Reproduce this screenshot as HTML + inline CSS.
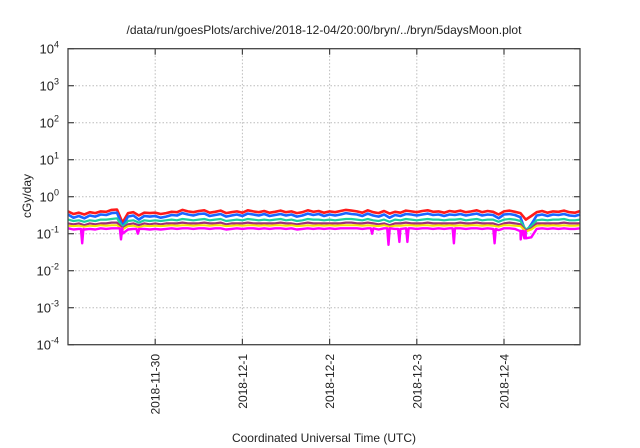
<!DOCTYPE html>
<html><head><meta charset="utf-8"><style>
body{margin:0;background:#fff}
svg{display:block;font-family:"Liberation Sans",sans-serif}
</style></head><body>
<svg id="c" width="640" height="448" viewBox="0 0 640 448">
<text x="324" y="34" text-anchor="middle" font-size="12" fill="#222">/data/run/goesPlots/archive/2018-12-04/20:00/bryn/../bryn/5daysMoon.plot</text>
<text transform="translate(31,196) rotate(-90)" text-anchor="middle" font-size="12" fill="#222">cGy/day</text>
<text x="324" y="442" text-anchor="middle" font-size="12" fill="#222">Coordinated Universal Time (UTC)</text>
<g id="grid"></g><g id="series"></g><g id="axes"></g>
</svg>
<script>
const yDecades=[-4,-3,-2,-1,0,1,2,3,4];
const xTickLabels=["2018-11-30","2018-12-1","2018-12-2","2018-12-3","2018-12-4"];
const xTickHours=[24,48,72,96,120];
const times=[0,1.5,3,4.5,6,7.5,9,10.5,12,13.5,15,16.5,18,19.5,21,22.5,24,25.5,27,28.5,30,31.5,33,34.5,36,37.5,39,40.5,42,43.5,45,46.5,48,49.5,51,52.5,54,55.5,57,58.5,60,61.5,63,64.5,66,67.5,69,70.5,72,73.5,75,76.5,78,79.5,81,82.5,84,85.5,87,88.5,90,91.5,93,94.5,96,97.5,99,100.5,102,103.5,105,106.5,108,109.5,111,112.5,114,115.5,117,118.5,120,121.5,123,124.5,126,127.5,129,130.5,132,133.5,135,136.5,138,139.5,141];
const red=[0.40,0.34,0.37,0.33,0.38,0.36,0.40,0.39,0.44,0.45,0.20,0.36,0.38,0.31,0.37,0.36,0.37,0.34,0.36,0.39,0.38,0.44,0.40,0.38,0.41,0.43,0.37,0.39,0.42,0.36,0.38,0.40,0.37,0.43,0.40,0.38,0.41,0.37,0.39,0.42,0.38,0.40,0.36,0.38,0.43,0.39,0.41,0.37,0.40,0.38,0.41,0.44,0.42,0.40,0.37,0.43,0.38,0.36,0.41,0.35,0.39,0.37,0.42,0.40,0.38,0.41,0.43,0.39,0.40,0.37,0.41,0.39,0.42,0.38,0.40,0.43,0.38,0.41,0.39,0.33,0.40,0.42,0.39,0.36,0.24,0.30,0.38,0.41,0.37,0.40,0.39,0.42,0.38,0.37,0.41,0.39];
const blue=[0.33,0.27,0.30,0.26,0.31,0.29,0.33,0.32,0.36,0.37,0.16,0.29,0.31,0.24,0.30,0.29,0.30,0.27,0.29,0.32,0.31,0.36,0.33,0.31,0.34,0.35,0.30,0.32,0.34,0.29,0.31,0.33,0.30,0.35,0.33,0.31,0.34,0.30,0.32,0.34,0.31,0.33,0.29,0.31,0.35,0.32,0.34,0.30,0.33,0.31,0.33,0.36,0.34,0.33,0.30,0.35,0.31,0.29,0.33,0.27,0.32,0.30,0.34,0.33,0.31,0.33,0.35,0.32,0.33,0.30,0.33,0.32,0.34,0.31,0.33,0.35,0.31,0.33,0.32,0.26,0.33,0.34,0.32,0.28,0.11,0.18,0.31,0.33,0.30,0.33,0.32,0.34,0.31,0.30,0.33,0.32];
const teal=[0.24,0.22,0.23,0.21,0.23,0.22,0.24,0.24,0.25,0.26,0.15,0.22,0.23,0.20,0.23,0.22,0.23,0.22,0.23,0.24,0.23,0.25,0.24,0.23,0.24,0.25,0.23,0.24,0.25,0.22,0.23,0.24,0.23,0.25,0.24,0.23,0.24,0.23,0.24,0.25,0.23,0.24,0.22,0.23,0.25,0.24,0.24,0.23,0.24,0.23,0.24,0.25,0.25,0.24,0.23,0.25,0.23,0.22,0.24,0.21,0.24,0.23,0.25,0.24,0.23,0.24,0.25,0.24,0.24,0.23,0.24,0.24,0.25,0.23,0.24,0.25,0.23,0.24,0.24,0.21,0.24,0.25,0.24,0.22,0.13,0.16,0.23,0.24,0.23,0.24,0.24,0.25,0.23,0.23,0.24,0.24];
const purple=[0.19,0.18,0.19,0.17,0.19,0.18,0.19,0.19,0.20,0.20,0.14,0.18,0.19,0.17,0.19,0.18,0.19,0.18,0.19,0.19,0.19,0.20,0.19,0.19,0.19,0.20,0.19,0.19,0.20,0.18,0.19,0.19,0.19,0.20,0.19,0.19,0.19,0.19,0.19,0.20,0.19,0.19,0.18,0.19,0.20,0.19,0.19,0.19,0.19,0.19,0.19,0.20,0.20,0.19,0.19,0.20,0.19,0.18,0.19,0.17,0.19,0.19,0.20,0.19,0.19,0.19,0.20,0.19,0.19,0.19,0.19,0.19,0.20,0.19,0.19,0.20,0.19,0.19,0.19,0.17,0.19,0.20,0.19,0.18,0.12,0.14,0.19,0.19,0.19,0.19,0.19,0.20,0.19,0.19,0.19,0.19];
const yellow=[0.165,0.16,0.165,0.155,0.165,0.16,0.17,0.165,0.17,0.17,0.13,0.16,0.165,0.15,0.165,0.16,0.165,0.16,0.165,0.17,0.165,0.17,0.17,0.165,0.17,0.17,0.165,0.17,0.17,0.16,0.165,0.17,0.165,0.17,0.17,0.165,0.17,0.165,0.17,0.17,0.165,0.17,0.16,0.165,0.17,0.165,0.17,0.165,0.17,0.165,0.17,0.17,0.17,0.17,0.165,0.17,0.165,0.16,0.17,0.155,0.165,0.165,0.17,0.17,0.165,0.17,0.17,0.165,0.17,0.165,0.17,0.165,0.17,0.165,0.17,0.17,0.165,0.17,0.165,0.155,0.17,0.17,0.165,0.16,0.115,0.13,0.165,0.17,0.165,0.17,0.165,0.17,0.165,0.165,0.17,0.165];
const magenta=[0.14,0.13,0.135,0.13,0.135,0.13,0.14,0.135,0.14,0.14,0.10,0.13,0.135,0.12,0.135,0.13,0.135,0.13,0.135,0.14,0.135,0.14,0.14,0.135,0.14,0.14,0.135,0.14,0.14,0.13,0.135,0.14,0.135,0.14,0.14,0.135,0.14,0.135,0.14,0.14,0.135,0.14,0.13,0.135,0.14,0.135,0.14,0.135,0.14,0.135,0.14,0.14,0.14,0.14,0.135,0.14,0.135,0.13,0.14,0.125,0.135,0.135,0.14,0.14,0.135,0.14,0.14,0.135,0.14,0.135,0.14,0.135,0.14,0.135,0.14,0.14,0.135,0.14,0.135,0.125,0.14,0.14,0.135,0.12,0.075,0.08,0.135,0.14,0.135,0.14,0.135,0.14,0.135,0.135,0.14,0.135];
const dipTimes=[3.9,14.6,19.2,83.7,88.2,91.2,93.4,106.2,117.4,124.6,125.6];
const magentaDips=[0.055,0.07,0.10,0.10,0.05,0.06,0.06,0.055,0.055,0.07,0.075];
const L=68,R=580,T=48.7,B=344.7;
const xs=h=>L+h*(87.2/24);
const ys=v=>T+(4-Math.log10(v))*((B-T)/8);
const NS="http://www.w3.org/2000/svg";
function mk(t,a,p){const e=document.createElementNS(NS,t);for(const k in a)e.setAttribute(k,a[k]);p.appendChild(e);return e;}
const grid=document.getElementById('grid'),ax=document.getElementById('axes'),sg=document.getElementById('series');
yDecades.forEach(d=>{const y=T+(4-d)*((B-T)/8);
 if(d>-4&&d<4){const g=mk('line',{x1:L,x2:R,y1:y,y2:y,stroke:'#bbb','stroke-dasharray':'1.5,2','stroke-width':1},grid);
 
 }
 mk('line',{x1:L,x2:L+6,y1:y,y2:y,stroke:'#444','stroke-width':1.2},ax);
 mk('line',{x1:R,x2:R-6,y1:y,y2:y,stroke:'#444','stroke-width':1.2},ax);
 const t=mk('text',{x:L-9,y:y+5,'text-anchor':'end','font-size':13,fill:'#222'},ax);
 
 
 t.textContent='10';const s=mk('tspan',{dy:-6,'font-size':9},t);s.textContent=String(d);});
xTickHours.forEach((h,i)=>{const x=xs(h);
 const g=mk('line',{x1:x,x2:x,y1:T,y2:B,stroke:'#bbb','stroke-dasharray':'1.5,2','stroke-width':1},grid);
 
 
 mk('line',{x1:x,x2:x,y1:B,y2:B-6,stroke:'#444','stroke-width':1.2},ax);
 mk('line',{x1:x,x2:x,y1:T,y2:T+6,stroke:'#444','stroke-width':1.2},ax);
 const t=mk('text',{transform:`translate(${x+4.5},354) rotate(-90)`,'text-anchor':'end','font-size':12,fill:'#222'},ax);
 
 
 t.textContent=xTickLabels[i];});
const fr=mk('rect',{x:L,y:T,width:R-L,height:B-T,fill:'none',stroke:'#444','stroke-width':1.3},ax);


function pts(v,dips){let p=times.map((t,i)=>[t,v[i]]);
 if(dips){dipTimes.forEach((t,j)=>{const k=times.findIndex(x=>x>t);const base=v[Math.max(0,k-1)];
  p.push([t-0.35,base],[t,dips[j]],[t+0.35,base]);});p.sort((a,b)=>a[0]-b[0]);}
 return p;}
const series=[[red,'#ff1a1a','series-red',2.6],[blue,'#1a66ff','series-blue',2.6],[teal,'#1ad2a0','series-teal',2.2],[purple,'#a0307a','series-purple',2.2],[yellow,'#f5e600','series-yellow',2],[magenta,'#ff00ff','series-magenta',2.4]];
series.forEach(([v,c,n,w])=>{const P=pts(v,n==='series-magenta'?magentaDips:null);
 const d=P.map((q,i)=>(i?'L':'M')+xs(q[0]).toFixed(1)+','+ys(q[1]).toFixed(1)).join('');
 const p=mk('path',{d:d,fill:'none',stroke:c,'stroke-width':w,'stroke-linejoin':'round'},sg);
 
 });
</script>
</body></html>
